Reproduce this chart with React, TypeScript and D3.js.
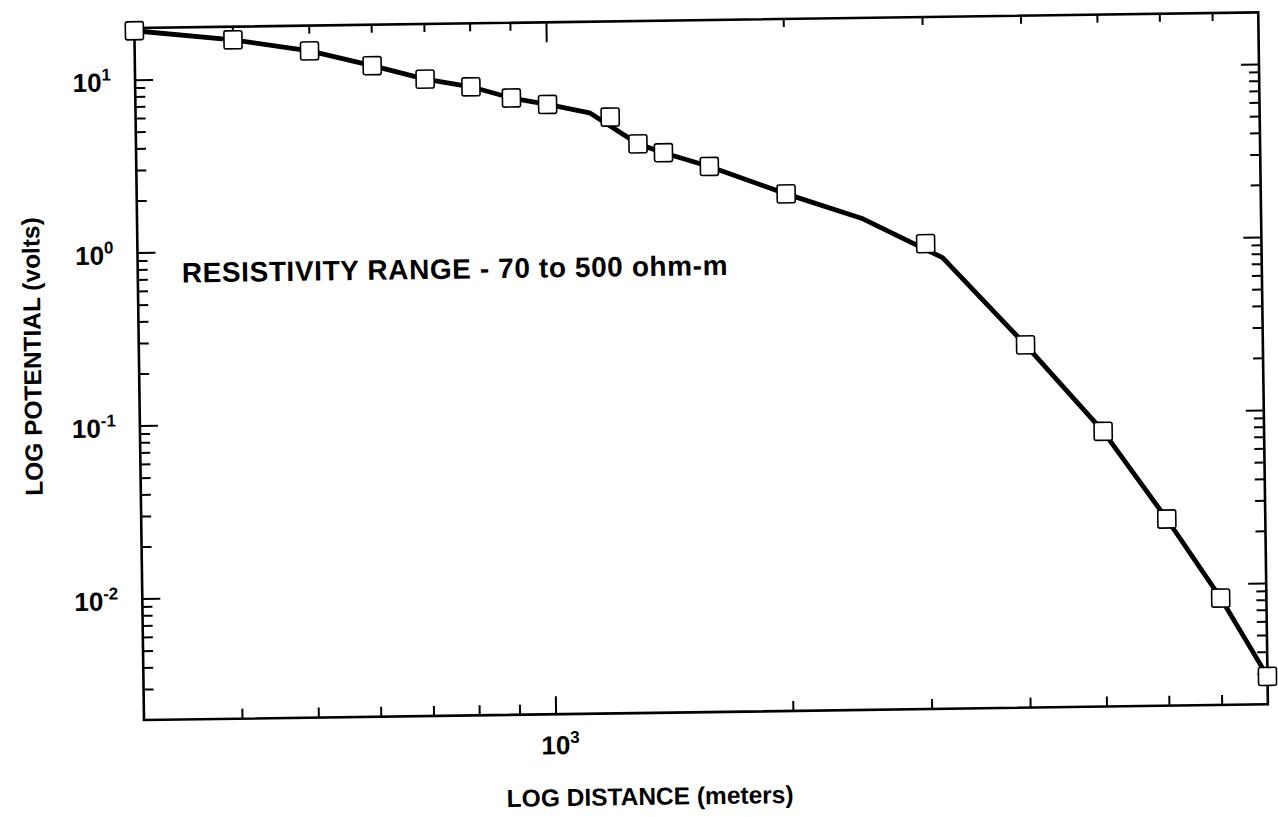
import React from 'react';
import * as d3 from 'd3';

// ---- data ----
const distance = [300, 400, 500, 600, 700, 800, 900, 1000, 1200, 1300, 1400, 1600, 2000, 3000, 4000, 5000, 6000, 7000, 8000];
const potential = [19.3, 16.8, 14.3, 11.6, 9.6, 8.6, 7.35, 6.7, 5.6, 3.9, 3.45, 2.85, 1.95, 0.98, 0.25, 0.078, 0.024, 0.0083, 0.0029];

const curveDistance = [300, 400, 500, 600, 700, 800, 900, 1000, 1130, 1300, 1400, 1600, 2000, 2500, 3150, 4000, 5000, 6000, 7000, 8000];
const curvePotential = [19.3, 16.8, 14.3, 11.6, 9.6, 8.6, 7.35, 6.7, 5.95, 3.9, 3.45, 2.85, 1.95, 1.38, 0.81, 0.25, 0.078, 0.024, 0.0083, 0.0029];

const xMinorTicks = [400, 500, 600, 700, 800, 900, 2000, 3000, 4000, 5000, 6000, 7000];
const xMajorTicks = [1000];
const xMajorExponents = ['3'];

const yMajorTicks = [10, 1, 0.1, 0.01];
const yMajorExponents = ['1', '0', '-1', '-2'];
const yMinorTicks = [
  0.003, 0.004, 0.005, 0.006, 0.007, 0.008, 0.009,
  0.02, 0.03, 0.04, 0.05, 0.06, 0.07, 0.08, 0.09,
  0.2, 0.3, 0.4, 0.5, 0.6, 0.7, 0.8, 0.9,
  2, 3, 4, 5, 6, 7, 8, 9,
];

const xTitle = 'LOG DISTANCE (meters)';
const yTitle = 'LOG POTENTIAL (volts)';
const note = 'RESISTIVITY RANGE - 70 to 500 ohm-m';

export default function App() {
  const W = 1278;
  const H = 817;
  const L = 144, R = 1268, T = 28, B = 720;
  const font = '"Liberation Sans", Arial, Helvetica, sans-serif';

  const x = d3.scaleLog().domain([300, 8000]).range([L, R]);
  const y = d3.scaleLog().domain([0.002, 20]).range([B, T]);

  const line = d3
    .line<number>()
    .x((d) => x(d))
    .y((_, i) => y(curvePotential[i]))
    .curve(d3.curveLinear);

  const minorLen = 10;
  const majorLen = 18;
  const box = 18;

  return (
    <svg
      width={W}
      height={H}
      viewBox={`0 0 ${W} ${H}`}
      style={{ position: 'absolute', left: 0, top: 0, background: '#fff' }}
    >
      <rect x={0} y={0} width={W} height={H} fill="#fff" />
      <g transform={`rotate(-0.8 ${L} ${B})`} fontFamily={font} fontWeight="bold" fill="#000">
        {/* frame */}
        <rect x={L} y={T} width={R - L} height={B - T} fill="none" stroke="#000" strokeWidth={2.6} />

        {/* x ticks bottom & top */}
        {xMinorTicks.map((v) => (
          <g key={'xm' + v} stroke="#000" strokeWidth={2}>
            <line x1={x(v)} x2={x(v)} y1={B} y2={B - minorLen} />
            <line x1={x(v)} x2={x(v)} y1={T} y2={T + minorLen - 2} />
          </g>
        ))}
        {xMajorTicks.map((v) => (
          <g key={'xM' + v} stroke="#000" strokeWidth={2}>
            <line x1={x(v)} x2={x(v)} y1={B} y2={B - majorLen} />
            <line x1={x(v)} x2={x(v)} y1={T} y2={T + majorLen + 2} />
          </g>
        ))}

        {/* y ticks left & right */}
        {yMinorTicks.map((v) => (
          <g key={'ym' + v} stroke="#000" strokeWidth={2}>
            <line x1={L} x2={L + minorLen} y1={y(v)} y2={y(v)} />
            <line x1={R} x2={R - minorLen} y1={y(v)} y2={y(v)} />
          </g>
        ))}
        {yMajorTicks.map((v) => (
          <g key={'yM' + v} stroke="#000" strokeWidth={2}>
            <line x1={L} x2={L + majorLen} y1={y(v)} y2={y(v)} />
            <line x1={R} x2={R - majorLen} y1={y(v)} y2={y(v)} />
          </g>
        ))}

        {/* y tick labels */}
        {yMajorTicks.map((v, i) => (
          <text key={'yl' + v} x={L - 24} y={y(v) + 11} textAnchor="end" fontSize={26}>
            10
            <tspan fontSize={17} dy={-11}>
              {yMajorExponents[i]}
            </tspan>
          </text>
        ))}

        {/* x tick labels */}
        {xMajorTicks.map((v, i) => (
          <text key={'xl' + v} x={x(v) + 4} y={B + 40} textAnchor="middle" fontSize={26}>
            10
            <tspan fontSize={17} dy={-11}>
              {xMajorExponents[i]}
            </tspan>
          </text>
        ))}

        {/* curve */}
        <path d={line(curveDistance) || ''} fill="none" stroke="#000" strokeWidth={4.8} strokeLinejoin="round" />

        {/* markers */}
        {distance.map((d, i) => (
          <rect
            key={'p' + i}
            x={x(d) - box / 2}
            y={y(potential[i]) - box / 2}
            width={box}
            height={box}
            rx={2}
            fill="#fff"
            stroke="#000"
            strokeWidth={1.6}
          />
        ))}

        {/* annotation */}
        <text x={188} y={283} fontSize={28} letterSpacing={0.6}>
          {note}
        </text>

        {/* axis titles */}
        <text x={649} y={812} textAnchor="middle" fontSize={24.5}>
          {xTitle}
        </text>
        <text transform="translate(46 355) rotate(-90)" textAnchor="middle" fontSize={24.5}>
          {yTitle}
        </text>
      </g>
    </svg>
  );
}
